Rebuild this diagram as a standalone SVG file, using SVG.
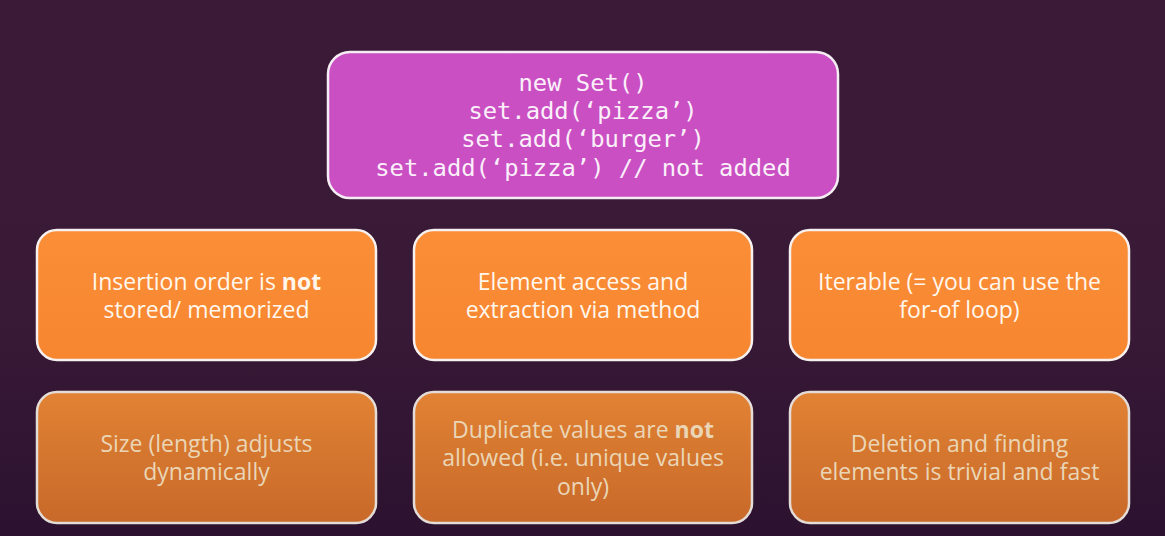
<svg xmlns="http://www.w3.org/2000/svg" width="1165" height="536" viewBox="0 0 1165 536">
<defs>
<linearGradient id="bg" x1="0" y1="0" x2="0" y2="1">
<stop offset="0" stop-color="#3a1a37"/>
<stop offset="0.6" stop-color="#381936"/>
<stop offset="1" stop-color="#2c1230"/>
</linearGradient>
<linearGradient id="og" x1="0" y1="0" x2="0" y2="1">
<stop offset="0" stop-color="#fc8e38"/>
<stop offset="1" stop-color="#f6862f"/>
</linearGradient>
<linearGradient id="odim" x1="0" y1="0" x2="0" y2="1">
<stop offset="0" stop-color="#e18234"/>
<stop offset="1" stop-color="#c8692a"/>
</linearGradient>
<style>
.mag{fill:#ca4fc3;stroke:#f4eef4;stroke-width:2.5}
.box{fill:url(#og);stroke:#f6f0ee;stroke-width:2.5}
.dim{fill:url(#odim);stroke:#e4dcd6;stroke-width:2.5}
.code{font-family:"DejaVu Sans Mono","Liberation Mono",monospace;font-size:23.8px;fill:#fbf0fa;text-anchor:middle}
.t{font-family:"Open Sans","Noto Sans",sans-serif;font-size:23px;fill:#fff7ee;text-anchor:middle}
.td{font-family:"Open Sans","Noto Sans",sans-serif;font-size:23px;fill:#ead6b6;text-anchor:middle}
.b{font-weight:bold}
</style>
</defs>
<rect x="0" y="0" width="1165" height="536" fill="url(#bg)"/>
<g id="connectors"></g>
<g id="node-set">
<rect class="mag" x="328" y="52" width="510" height="146" rx="22"/>
<text class="code" x="583" y="91">new Set()</text>
<text class="code" x="583" y="119">set.add(‘pizza’)</text>
<text class="code" x="583" y="147">set.add(‘burger’)</text>
<text class="code" x="583" y="176">set.add(‘pizza’) // not added</text>
</g>
<g id="node-insertion">
<rect class="box" x="37" y="230" width="339" height="130" rx="20"/>
<text class="t" x="206.5" y="290">Insertion order is <tspan class="b">not</tspan></text>
<text class="t" x="206.5" y="318">stored/ memorized</text>
</g>
<g id="node-access">
<rect class="box" x="414" y="230" width="338" height="130" rx="20"/>
<text class="t" x="583" y="290">Element access and</text>
<text class="t" x="583" y="318">extraction via method</text>
</g>
<g id="node-iterable">
<rect class="box" x="790" y="230" width="339" height="130" rx="20"/>
<text class="t" x="959.5" y="290">Iterable (= you can use the</text>
<text class="t" x="959.5" y="318">for-of loop)</text>
</g>
<g id="node-size">
<rect class="dim" x="37" y="392" width="339" height="131" rx="20"/>
<text class="td" x="206.5" y="452">Size (length) adjusts</text>
<text class="td" x="206.5" y="480">dynamically</text>
</g>
<g id="node-duplicate">
<rect class="dim" x="414" y="392" width="338" height="131" rx="20"/>
<text class="td" x="583" y="438">Duplicate values are <tspan class="b">not</tspan></text>
<text class="td" x="583" y="466">allowed (i.e. unique values</text>
<text class="td" x="583" y="495">only)</text>
</g>
<g id="node-deletion">
<rect class="dim" x="790" y="392" width="339" height="131" rx="20"/>
<text class="td" x="959.5" y="452">Deletion and finding</text>
<text class="td" x="959.5" y="480">elements is trivial and fast</text>
</g>
</svg>
